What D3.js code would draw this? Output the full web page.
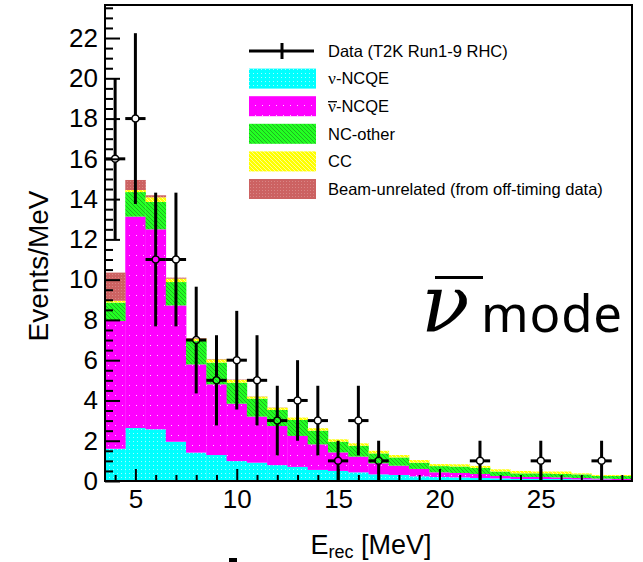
<!DOCTYPE html>
<html>
<head>
<meta charset="utf-8">
<script src="https://cdn.jsdelivr.net/npm/d3@7"></script>
<style>
  body { margin: 0; background: #fff; }
  svg { display: block; }
</style>
</head>
<body>
<svg id="chart" width="643" height="562"></svg>
<script>
// bin centres (1 MeV wide bins)
const binE = [4, 5, 6, 7, 8, 9, 10, 11, 12, 13, 14, 15, 16, 17, 18, 19, 20, 21, 22, 23, 24, 25, 26, 27, 28, 29];
// stacked MC components, Events/MeV
const nuNCQE    = [1.6, 2.63, 2.57, 1.95, 1.41, 1.29, 0.99, 0.91, 0.79, 0.7, 0.55, 0.5, 0.43, 0.33, 0.3, 0.23, 0.2, 0.18, 0.15, 0.13, 0.1, 0.1, 0.1, 0.08, 0.07, 0.05];
const nubarNCQE = [6.35, 10.5, 9.93, 6.77, 4.38, 3.51, 2.85, 2.29, 1.94, 1.54, 1.27, 0.92, 0.78, 0.55, 0.46, 0.37, 0.23, 0.22, 0.2, 0.12, 0.1, 0.1, 0.08, 0.07, 0.05, 0.05];
const ncOther   = [0.91, 1.22, 1.36, 1.16, 1.16, 1.08, 1.04, 0.89, 0.8, 0.79, 0.68, 0.53, 0.54, 0.49, 0.41, 0.31, 0.31, 0.32, 0.3, 0.22, 0.18, 0.18, 0.17, 0.18, 0.13, 0.15];
const ccEvents  = [0.09, 0.1, 0.23, 0.17, 0.12, 0.16, 0.14, 0.1, 0.11, 0.12, 0.12, 0.12, 0.12, 0.13, 0.12, 0.13, 0.1, 0.11, 0.1, 0.11, 0.12, 0.09, 0.12, 0.05, 0.05, 0.05];
const beamUnrel = [1.4, 0.5, 0.1, 0.05, 0.03, 0.02, 0.02, 0.01, 0.01, 0, 0, 0, 0, 0, 0, 0, 0, 0, 0, 0, 0, 0, 0, 0, 0, 0];

// data points (empty bins not drawn)
const dataE   = [4, 5, 6, 7, 8, 9, 10, 11, 12, 13, 14, 15, 16, 17, 22, 25, 28];
const dataVal = [16, 18, 11, 11, 7, 5, 6, 5, 3, 4, 3, 1, 3, 1, 1, 1, 1];
const dataErr = [4, 4.24, 3.32, 3.32, 2.65, 2.24, 2.45, 2.24, 1.73, 2, 1.73, 1, 1.73, 1, 1, 1, 1];

const xTicks = [5, 10, 15, 20, 25];
const yTicks = [0, 2, 4, 6, 8, 10, 12, 14, 16, 18, 20, 22];

const keys = ['nu', 'nubar', 'nc', 'cc', 'beam'];
const legendLabels = ['ν-NCQE', 'ν-NCQE', 'NC-other', 'CC', 'Beam-unrelated (from off-timing data)'];

const svg = d3.select('#chart');
const plotL = 105, plotR = 632, plotT = 5, plotB = 481;

const x = d3.scaleLinear().domain([3.5, 29.5]).range([plotL, plotR]);
const y = d3.scaleLinear().domain([0, 23.64]).range([plotB, plotT]);

// fill patterns, ROOT style
const defs = svg.append('defs');
function pattern(id, w, h, base) {
  const p = defs.append('pattern').attr('id', id).attr('width', w).attr('height', h)
    .attr('patternUnits', 'userSpaceOnUse');
  p.append('rect').attr('width', w).attr('height', h).attr('fill', base);
  return p;
}
let p = pattern('pNu', 4, 4, '#00ffff');
p.append('rect').attr('x', 1).attr('y', 1).attr('width', 1).attr('height', 1).attr('fill', '#9ffcff');
p = pattern('pNubar', 7, 10, '#ff00ff');
p.append('rect').attr('x', 3).attr('y', 5).attr('width', 1).attr('height', 1).attr('fill', '#ffd0ff');
p = pattern('pNc', 4, 4, '#22ff22');
p.append('path').attr('d', 'M0,0 L4,4 M-1,3 L1,5 M3,-1 L5,1').attr('stroke', '#1fb51f').attr('stroke-width', 1);
p = pattern('pCc', 4, 4, '#ffff00');
p.append('path').attr('d', 'M0,0 L4,4 M-1,3 L1,5 M3,-1 L5,1').attr('stroke', '#ffff90').attr('stroke-width', 1);
p = pattern('pBeam', 3, 3, '#cc6262');
p.append('rect').attr('x', 1).attr('y', 1).attr('width', 1).attr('height', 1).attr('fill', '#d98585');
const fills = { nu: 'url(#pNu)', nubar: 'url(#pNubar)', nc: 'url(#pNc)', cc: 'url(#pCc)', beam: 'url(#pBeam)' };

// stacked histogram
const rows = binE.map((e, i) => ({
  E: e, nu: nuNCQE[i], nubar: nubarNCQE[i], nc: ncOther[i], cc: ccEvents[i], beam: beamUnrel[i]
}));
const series = d3.stack().keys(keys)(rows);

svg.append('g').selectAll('g')
  .data(series)
  .join('g')
  .attr('fill', d => fills[d.key])
  .selectAll('rect')
  .data(d => d)
  .join('rect')
  .attr('x', d => x(d.data.E - 0.5))
  .attr('width', d => x(d.data.E + 0.5) - x(d.data.E - 0.5) + 0.3)
  .attr('y', d => y(d[1]))
  .attr('height', d => Math.max(0, y(d[0]) - y(d[1])));

// axes (ticks inside the frame)
const font = 'Liberation Sans, Arial, Helvetica, sans-serif';
function styleAxis(g) {
  g.select('.domain').remove();
  g.selectAll('line').attr('stroke', '#000').attr('stroke-width', 2);
  g.selectAll('text').attr('font-family', font).attr('font-size', 26).attr('fill', '#000');
}
const minorX = d3.range(4, 30).filter(v => v % 5 !== 0);
svg.append('g').attr('transform', `translate(0,${plotB})`)
  .call(d3.axisBottom(x).tickValues(minorX).tickSize(-6).tickFormat(''))
  .call(styleAxis);
svg.append('g').attr('transform', `translate(0,${plotB})`)
  .call(d3.axisBottom(x).tickValues(xTicks).tickSize(-12).tickPadding(9))
  .call(styleAxis);

const minorY = d3.range(0, 23.6, 0.5).filter(v => v % 2 !== 0);
svg.append('g').attr('transform', `translate(${plotL},0)`)
  .call(d3.axisLeft(y).tickValues(minorY).tickSize(-8).tickFormat(''))
  .call(styleAxis);
svg.append('g').attr('transform', `translate(${plotL},0)`)
  .call(d3.axisLeft(y).tickValues(yTicks).tickSize(-15).tickPadding(7))
  .call(styleAxis);

// data points with error bars
const pts = dataE.map((e, i) => ({ E: e, v: dataVal[i], err: dataErr[i] }));
const r = 3.5;
const gData = svg.append('g').attr('stroke', '#000');
pts.forEach(d => {
  const cx = x(d.E), cy = y(d.v);
  gData.append('line').attr('x1', cx).attr('x2', cx).attr('y1', y(d.v + d.err)).attr('y2', cy - r).attr('stroke-width', 3);
  gData.append('line').attr('x1', cx).attr('x2', cx).attr('y1', cy + r).attr('y2', y(Math.max(0, d.v - d.err))).attr('stroke-width', 3);
  gData.append('line').attr('x1', x(d.E - 0.5)).attr('x2', cx - r).attr('y1', cy).attr('y2', cy).attr('stroke-width', 3);
  gData.append('line').attr('x1', cx + r).attr('x2', x(d.E + 0.5)).attr('y1', cy).attr('y2', cy).attr('stroke-width', 3);
  gData.append('circle').attr('cx', cx).attr('cy', cy).attr('r', r).attr('fill', 'none').attr('stroke-width', 1.5);
});

// frame
svg.append('rect').attr('x', plotL).attr('y', plotT).attr('width', plotR - plotL).attr('height', plotB - plotT)
  .attr('fill', 'none').attr('stroke', '#000').attr('stroke-width', 2);

// axis titles
svg.append('text').attr('transform', 'translate(48,266) rotate(-90)')
  .attr('text-anchor', 'middle').attr('font-family', font).attr('font-size', 28).text('Events/MeV');
const xt = svg.append('text').attr('x', 371).attr('y', 554).attr('text-anchor', 'middle')
  .attr('font-family', font).attr('font-size', 27);
xt.append('tspan').text('E');
xt.append('tspan').attr('font-size', 18).attr('dy', 4).text('rec');
xt.append('tspan').attr('dy', -4).text(' [MeV]');

// legend
const lg = svg.append('g').attr('font-family', font).attr('font-size', 16.5);
const lx = 249, ly = 51, step = 27.6;
lg.append('line').attr('x1', lx).attr('x2', lx + 65).attr('y1', ly).attr('y2', ly).attr('stroke', '#000').attr('stroke-width', 3);
lg.append('line').attr('x1', lx + 33).attr('x2', lx + 33).attr('y1', ly - 8).attr('y2', ly + 8).attr('stroke', '#000').attr('stroke-width', 3);
lg.append('text').attr('x', 328).attr('y', ly + 5.8).text('Data (T2K Run1-9 RHC)');
keys.forEach((k, i) => {
  const cy = ly + (i + 1) * step;
  lg.append('rect').attr('x', lx).attr('y', cy - 10).attr('width', 67).attr('height', 20).attr('fill', fills[k]);
  const t = lg.append('text').attr('x', 328).attr('y', cy + 5.8);
  if (i < 2) {
    t.append('tspan').attr('font-family', 'Liberation Serif, Times New Roman, serif').attr('font-size', 17.5).text('ν');
    t.append('tspan').text(legendLabels[i].slice(1));
    if (i === 1) {
      lg.append('line').attr('x1', 328).attr('x2', 337).attr('y1', cy - 4.5).attr('y2', cy - 4.5).attr('stroke', '#000').attr('stroke-width', 1.3);
    }
  } else {
    t.text(legendLabels[i]);
  }
});

// big "anti-nu mode" label
svg.append('text').attr('x', 421).attr('y', 332)
  .attr('font-family', 'DejaVu Serif, serif').attr('font-style', 'italic').attr('font-size', 80).text('ν');
svg.append('line').attr('x1', 435).attr('x2', 483).attr('y1', 277.5).attr('y2', 277.5).attr('stroke', '#000').attr('stroke-width', 3);
svg.append('text').attr('x', 481).attr('y', 332)
  .attr('font-family', 'Noto Sans, sans-serif').attr('font-size', 51).attr('letter-spacing', 0.8).text('mode');

// small stray mark below the axis title, as in the original
svg.append('rect').attr('x', 229).attr('y', 558).attr('width', 8).attr('height', 4).attr('fill', '#000');
</script>
</body>
</html>
